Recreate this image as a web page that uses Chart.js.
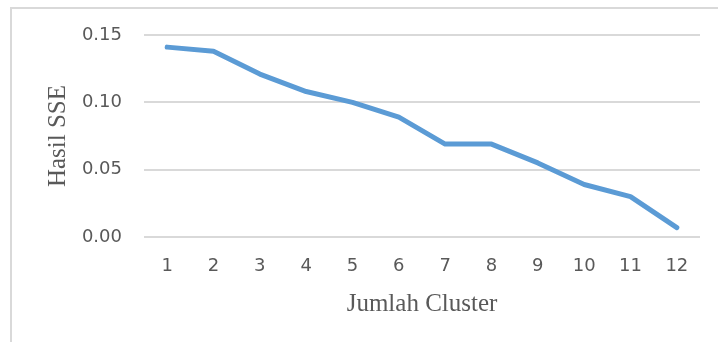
<!DOCTYPE html>
<html>
<head>
<meta charset="utf-8">
<script src="https://cdn.jsdelivr.net/npm/chart.js@4/dist/chart.umd.min.js"></script>
<style>
  html, body { margin: 0; padding: 0; background: #ffffff; overflow: hidden; }
  #wrap { position: relative; width: 718px; height: 342px; overflow: hidden; }
  #frame { position: absolute; left: 10px; top: 7px; width: 740px; height: 360px;
           border: 2px solid #d9d9d9; box-sizing: border-box; }
  canvas { position: absolute; left: 0; top: 0; }
</style>
</head>
<body>
<div id="wrap">
  <div id="frame"></div>
  <canvas id="chart" width="718" height="342"></canvas>
</div>
<script>
// Number of clusters on the x axis
const clusters = ['1', '2', '3', '4', '5', '6', '7', '8', '9', '10', '11', '12'];
// SSE result for each cluster count
const sseValues = [0.141, 0.138, 0.121, 0.108, 0.100, 0.089, 0.069, 0.069, 0.055, 0.039, 0.030, 0.007];
// Value axis range
const yMin = 0;
const yMax = 0.15;
const yStep = 0.05;

const tickColor = '#595959';
const titleColor = '#595959';

new Chart(document.getElementById('chart'), {
  type: 'line',
  data: {
    labels: clusters,
    datasets: [{
      data: sseValues,
      borderColor: '#5b9bd5',
      borderWidth: 5,
      borderCapStyle: 'round',
      borderJoinStyle: 'round',
      pointRadius: 0,
      pointHoverRadius: 0,
      tension: 0,
      fill: false
    }]
  },
  options: {
    responsive: false,
    animation: false,
    devicePixelRatio: 1,
    layout: { padding: { top: 35, right: 18, bottom: 0, left: 0 } },
    plugins: {
      legend: { display: false },
      tooltip: { enabled: false }
    },
    scales: {
      x: {
        offset: true,
        grid: { display: false, drawTicks: false },
        border: { display: false },
        ticks: {
          color: tickColor,
          padding: 19,
          maxRotation: 0,
          autoSkip: false,
          font: { family: 'DejaVu Sans', size: 18 }
        },
        title: {
          display: true,
          text: 'Jumlah Cluster',
          color: titleColor,
          padding: { top: 0, bottom: 23 },
          font: { family: 'Liberation Serif', size: 25 }
        },
        afterFit: (scale) => { scale.height = 105; }
      },
      y: {
        min: yMin,
        max: yMax,
        grid: { color: '#d9d9d9', lineWidth: 2, drawTicks: false },
        border: { display: false },
        ticks: {
          stepSize: yStep,
          color: tickColor,
          padding: 22,
          font: { family: 'DejaVu Sans', size: 18 },
          callback: (v) => Number(v).toFixed(2)
        },
        title: {
          display: true,
          text: 'Hasil SSE',
          color: titleColor,
          padding: { top: 43, bottom: 0 },
          font: { family: 'Liberation Serif', size: 25 }
        },
        afterFit: (scale) => { scale.width = 144; }
      }
    }
  }
});
</script>
</body>
</html>
